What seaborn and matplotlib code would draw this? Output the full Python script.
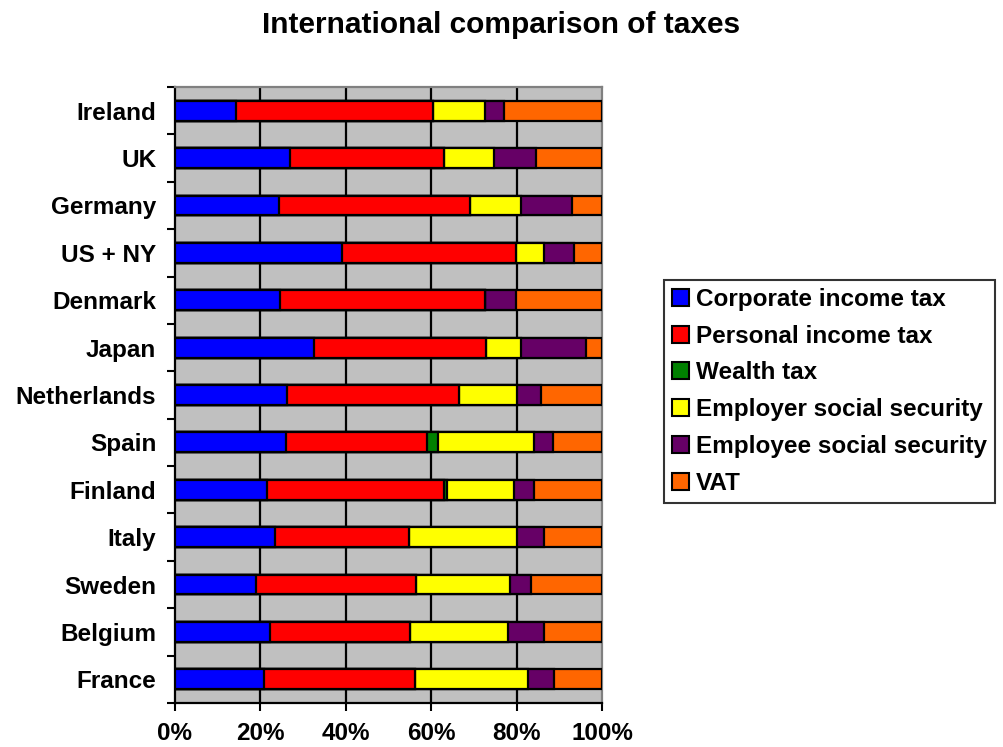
import numpy as np
import pandas as pd
import matplotlib
matplotlib.use("Agg")
import matplotlib.pyplot as plt
from matplotlib.patches import Patch
from matplotlib.ticker import FixedLocator
import seaborn as sns

countries = ["Ireland", "UK", "Germany", "US + NY", "Denmark", "Japan",
             "Netherlands", "Spain", "Finland", "Italy", "Sweden", "Belgium", "France"]
corporate = [14.4, 27.0, 24.4, 39.2, 24.5, 32.5, 26.3, 25.9, 21.6, 23.5, 18.9, 22.3, 20.9]
personal = [46.0, 35.9, 44.6, 40.7, 48.0, 40.4, 40.3, 33.2, 41.4, 31.3, 37.6, 32.7, 35.2]
wealth = [0.0, 0.0, 0.0, 0.0, 0.0, 0.0, 0.0, 2.4, 0.7, 0.0, 0.0, 0.0, 0.0]
employer = [12.2, 11.7, 12.0, 6.6, 0.0, 8.1, 13.6, 22.5, 15.8, 25.4, 22.0, 22.9, 26.6]
employee = [4.5, 9.9, 11.9, 7.0, 7.4, 15.2, 5.4, 4.5, 4.5, 6.2, 4.9, 8.6, 6.0]
vat = [22.9, 15.5, 7.1, 6.5, 20.1, 3.8, 14.4, 11.5, 16.0, 13.6, 16.6, 13.5, 11.3]

series_names = ["Corporate income tax", "Personal income tax", "Wealth tax",
                "Employer social security", "Employee social security", "VAT"]
series_colors = ["#0000FF", "#FF0000", "#008000", "#FFFF00", "#660066", "#FF6600"]
x_ticks = [0, 20, 40, 60, 80, 100]
x_ticklabels = ["0%", "20%", "40%", "60%", "80%", "100%"]

sns.set_style("white")
plt.rcParams["font.family"] = ["Liberation Sans", "DejaVu Sans"]
plt.rcParams["font.weight"] = "bold"
plt.rcParams["text.color"] = "black"
plt.rcParams["xtick.color"] = "black"
plt.rcParams["ytick.color"] = "black"
plt.rcParams["xtick.labelcolor"] = "black"
plt.rcParams["ytick.labelcolor"] = "black"

df = pd.DataFrame({"country": countries})
arr = np.array([corporate, personal, wealth, employer, employee, vat])
cum = np.cumsum(arr, axis=0)
for i, name in enumerate(series_names):
    df[name] = cum[i]

fig = plt.figure(figsize=(10.04, 7.47), dpi=100)
ax = fig.add_axes([0.1743, 0.0589, 0.4253, 0.8246])
ax.set_facecolor("#C0C0C0")

for i in reversed(range(len(series_names))):
    sns.barplot(data=df, x=series_names[i], y="country", orient="h",
                color=series_colors[i], edgecolor="black", linewidth=1.6,
                width=0.42, saturation=1, ax=ax, zorder=3)

ax.set_xlim(0, 100)
ax.set_ylim(len(countries) - 0.5, -0.5)
ax.xaxis.set_major_locator(FixedLocator(x_ticks))
ax.set_xticklabels(x_ticklabels, fontsize=17.5, fontweight="bold", color="black")
ax.set_yticks(range(len(countries)))
ax.set_yticklabels(countries, fontsize=17.5, fontweight="bold", color="black")
ax.set_yticks(np.arange(-0.5, len(countries), 1.0), minor=True)
ax.tick_params(axis="y", which="major", length=0, pad=13.5)
ax.tick_params(axis="y", which="minor", length=6, width=1.5, direction="out", color="black", left=True)
ax.tick_params(axis="x", which="major", length=6, width=1.5, direction="out", color="black", bottom=True, pad=8)
ax.set_xlabel("")
ax.set_ylabel("")

ax.grid(False)
for xv in x_ticks[1:-1]:
    ax.axvline(xv, color="black", linewidth=1.6, zorder=1)
ax.set_axisbelow(True)

for side in ["left", "bottom"]:
    ax.spines[side].set_color("black")
    ax.spines[side].set_linewidth(1.6)
for side in ["top", "right"]:
    ax.spines[side].set_visible(True)
    ax.spines[side].set_color("#808080")
    ax.spines[side].set_linewidth(1.6)

fig.text(0.499, 0.966, "International comparison of taxes", ha="center", va="center",
         fontsize=21.5, fontweight="bold", color="black")

handles = [Patch(facecolor=c, edgecolor="black", linewidth=1.5) for c in series_colors]
leg = fig.legend(handles, series_names, loc="upper left", bbox_to_anchor=(0.6614, 0.6252),
                 frameon=True, fancybox=False, edgecolor="black",
                 prop={"weight": "bold", "size": 17.5},
                 handlelength=0.7, handleheight=0.7, handletextpad=0.3,
                 labelspacing=0.57, borderpad=0.32, borderaxespad=0)
leg.get_frame().set_linewidth(1.5)
for t in leg.get_texts():
    t.set_color("black")

fig.savefig("out.png", dpi=100)
